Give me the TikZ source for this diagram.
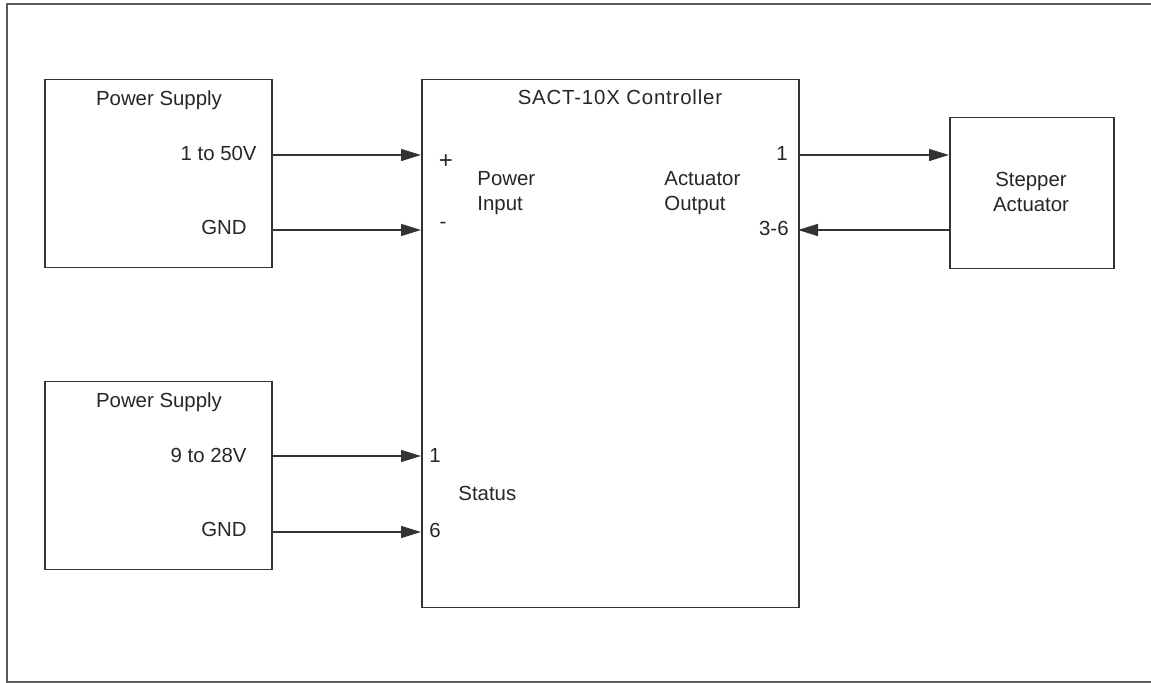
\documentclass[tikz,border=0pt]{standalone}
\usepackage{fontspec}
\setmainfont{Liberation Sans}
\usepackage{tikz}
\usetikzlibrary{
    arrows.meta,
    calc
}

\definecolor{linegray}{HTML}{333333}
\definecolor{framegray}{HTML}{5A5A5A}

\tikzset{
    box/.style={draw=linegray, line width=0.75pt, inner sep=0pt, anchor=north west},
    lbl/.style={inner sep=0pt, text=black!85, font=\fontsize{10.2}{12.5}\selectfont},
    wire/.style={draw=linegray, line width=0.75pt, -{Triangle[length=10pt,width=6pt]}}
}

\begin{document}
\begin{tikzpicture}[x=0.5pt, y=-0.5pt]

\useasboundingbox (0,0) rectangle (1151,683);

% Frame
\draw[framegray, line width=1pt] (1151,4) -- (7,4) -- (7,682) -- (1151,682);

% Boxes
\node[box, minimum width=113.5pt, minimum height=94pt] (ps1) at (44,79) {};
\node[box, minimum width=113.5pt, minimum height=94pt] (ps2) at (44,381) {};
\node[box, minimum width=188.5pt, minimum height=264pt] (ctrl) at (421,79) {};
\node[box, minimum width=82pt, minimum height=75.5pt] (step) at (949,117) {};

% Titles
\node[lbl, anchor=base] (ps1title) at (159,106) {Power Supply};
\node[lbl, anchor=base] (ps2title) at (159,408) {Power Supply};
\node[lbl, anchor=base] (ctrltitle) at (620,105) {\addfontfeature{LetterSpace=4}SACT-10X Controller};
\node[lbl, anchor=base, align=center] (steptxt) at (1031,212) {Stepper\\Actuator};

% Supply labels
\node[lbl, anchor=base east] (v50) at (257,161) {1 to 50V};
\node[lbl, anchor=base east] (gnd1) at (247,235) {GND};
\node[lbl, anchor=base east] (v28) at (247,463) {9 to 28V};
\node[lbl, anchor=base east] (gnd2) at (247,537) {GND};

% Controller pins
\node[lbl, anchor=base, font=\fontsize{12}{14}\selectfont] (plus) at (446,169) {+};
\node[lbl, anchor=base] (minus) at (443,229) {-};
\node[lbl, anchor=base west, align=left] (pwrin) at (477,211) {Power\\Input};
\node[lbl, anchor=base west, align=left] (actout) at (664,211) {Actuator\\Output};
\node[lbl, anchor=base east] (aone) at (788,161) {1};
\node[lbl, anchor=base east] (athree) at (789,236) {3-6};
\node[lbl, anchor=base] (sone) at (435,463) {1};
\node[lbl, anchor=base] (ssix) at (435,538) {6};
\node[lbl, anchor=base west] (status) at (458,501) {Status};

% Port points
\coordinate (pin1) at (421,155);
\coordinate (pin2) at (421,230);
\coordinate (sin1) at (421,456);
\coordinate (sin6) at (421,532);
\coordinate (aout1) at (798,155);
\coordinate (aout36) at (798,230);

% Wires
\draw[wire] (ps1.east |- pin1) -- (pin1);
\draw[wire] (ps1.east |- pin2) -- (pin2);
\draw[wire] (ps2.east |- sin1) -- (sin1);
\draw[wire] (ps2.east |- sin6) -- (sin6);
\draw[wire] (aout1) -- (step.west |- aout1);
\draw[wire] (step.west |- aout36) -- (aout36);

\end{tikzpicture}
\end{document}
